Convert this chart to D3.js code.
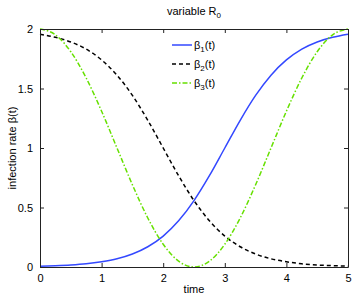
<!DOCTYPE html>
<html><head><meta charset="utf-8">
<script src="https://cdn.jsdelivr.net/npm/d3@7"></script>
<style>body{margin:0;background:#fff}svg{display:block}text{font-family:"Liberation Sans",Arial,sans-serif;fill:#000}</style>
</head><body>
<svg id="c" width="354" height="298"></svg>
<script>
const times = [0,0.25,0.5,0.75,1,1.25,1.5,1.75,2,2.25,2.5,2.75,3,3.25,3.5,3.75,4,4.25,4.5,4.75,5];
const beta1 = [0.007,0.011,0.017,0.027,0.044,0.069,0.109,0.170,0.260,0.388,0.558,0.767,1.0,1.233,1.442,1.612,1.740,1.831,1.891,1.930,1.956];
const beta2 = [1.956,1.930,1.891,1.831,1.740,1.612,1.442,1.233,1.0,0.767,0.558,0.388,0.260,0.170,0.109,0.069,0.044,0.027,0.017,0.011,0.007];
const beta3 = [2.0,1.951,1.809,1.588,1.309,1.0,0.691,0.412,0.191,0.049,0.0,0.049,0.191,0.412,0.691,1.0,1.309,1.588,1.809,1.951,2.0];
const xTicks = [0,1,2,3,4,5];
const yTicks = [0,0.5,1,1.5,2];
const yTickLabels = ["0","0.5","1","1.5","2"];
const seriesNames = ["β1(t)","β2(t)","β3(t)"];

const svg = d3.select("#c");
const L=40,R=348,T=29,B=267;
const x = d3.scaleLinear().domain([0,5]).range([L,R]);
const y = d3.scaleLinear().domain([0,2]).range([B,T]);

const series = [
  {name:"β", sub:"1", vals:beta1, color:"#3348ff", dash:null},
  {name:"β", sub:"2", vals:beta2, color:"#000", dash:"4,3"},
  {name:"β", sub:"3", vals:beta3, color:"#66e000", dash:"5,2,1.5,2"}
];

const line = d3.line().x((d,i)=>x(times[i])).y(d=>y(d)).curve(d3.curveMonotoneX);
const g = svg.append("g");
series.forEach(s=>{
  g.append("path").attr("d",line(s.vals)).attr("fill","none")
   .attr("stroke",s.color).attr("stroke-width",1.5)
   .attr("stroke-dasharray",s.dash);
});

// axes (box with inward ticks)
const fs = 11;
const axB = d3.axisBottom(x).tickValues(xTicks).tickSizeInner(-4).tickSizeOuter(0).tickPadding(7).tickFormat(d3.format("d"));
const axT = d3.axisTop(x).tickValues(xTicks).tickSizeInner(-4).tickSizeOuter(0).tickFormat("");
const axL = d3.axisLeft(y).tickValues(yTicks).tickSizeInner(-4).tickSizeOuter(0).tickPadding(7).tickFormat((d,i)=>yTickLabels[i]);
const axR = d3.axisRight(y).tickValues(yTicks).tickSizeInner(-4).tickSizeOuter(0).tickFormat("");
function style(sel){sel.selectAll("path").attr("stroke","#222");sel.selectAll("line").attr("stroke","#222");sel.selectAll("text").attr("font-size",fs).attr("font-family","Liberation Sans,Arial,sans-serif").attr("fill","#000");}
svg.append("g").attr("transform",`translate(0,${B})`).call(axB).call(style);
svg.append("g").attr("transform",`translate(0,${T})`).call(axT).call(style);
svg.append("g").attr("transform",`translate(${L},0)`).call(axL).call(style);
svg.append("g").attr("transform",`translate(${R},0)`).call(axR).call(style);

// title
const title = svg.append("text").attr("x",194).attr("y",15).attr("text-anchor","middle").attr("font-size",fs);
title.append("tspan").text("variable R");
title.append("tspan").attr("font-size",8).attr("dy",3).text("0");

// axis labels
svg.append("text").attr("x",194).attr("y",293).attr("text-anchor","middle").attr("font-size",fs).text("time");
svg.append("text").attr("transform",`translate(16,${(T+B)/2}) rotate(-90)`).attr("text-anchor","middle").attr("font-size",fs).text("infection rate β(t)");

// legend
const legY = [45,64,83];
series.forEach((s,i)=>{
  svg.append("line").attr("x1",172).attr("x2",192).attr("y1",legY[i]).attr("y2",legY[i])
    .attr("stroke",s.color).attr("stroke-width",1.5).attr("stroke-dasharray",s.dash);
  const t = svg.append("text").attr("x",194).attr("y",legY[i]+4).attr("font-size",fs);
  t.append("tspan").text(s.name);
  t.append("tspan").attr("font-size",8).attr("dy",3).text(s.sub);
  t.append("tspan").attr("dy",-3).text("(t)");
});
</script>
</body></html>
